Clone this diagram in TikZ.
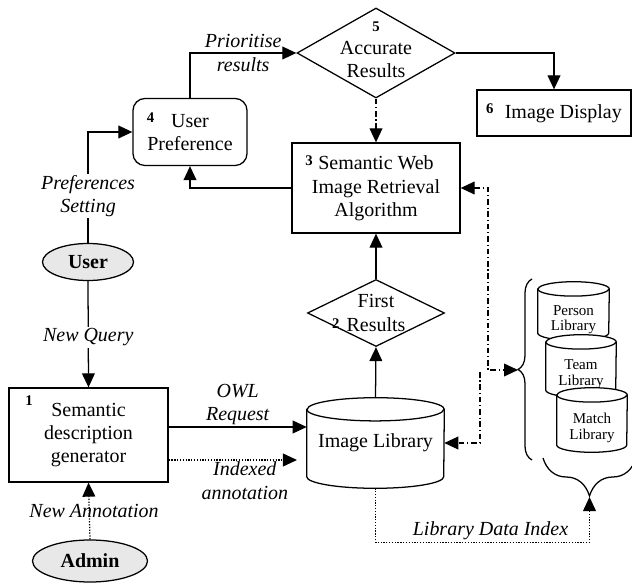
\documentclass[tikz,border=0pt]{standalone}
\usepackage{fontspec}
\setmainfont{Liberation Serif}
\usetikzlibrary{arrows.meta, shapes.geometric, decorations.pathreplacing}
\newcommand{\bigfont}{\fontsize{14.2}{16.5}\selectfont}
\newcommand{\smallfont}{\fontsize{10.7}{11.2}\selectfont}
\newcommand{\stepno}[1]{{\fontsize{10.5}{11}\selectfont\bfseries #1}}
\newcommand{\upno}[1]{\raisebox{0.5ex}{\stepno{#1}}}
% cylinder: name, position, width, height, y radius, text shift, text options, text
\newcommand{\libcyl}[8]{%
  \node[minimum width=#3, minimum height=#4, inner sep=0pt] (#1) at #2 {};
  \draw[line width=0.9pt, fill=white] ([yshift=-#5]#1.north west) -- ([yshift=#5]#1.south west)
    arc[start angle=180, end angle=360, x radius=#3/2, y radius=#5] -- ([yshift=-#5]#1.north east)
    arc[start angle=0, end angle=180, x radius=#3/2, y radius=#5] -- cycle;
  \draw[line width=0.9pt] ([yshift=-#5]#1.north west) arc[start angle=180, end angle=360, x radius=#3/2, y radius=#5];
  \node[align=center, inner sep=0pt, yshift=#6, #7] (#1-txt) at (#1.center) {#8};}
\tikzset{>={Triangle[length=3.5mm, width=3.2mm]},
  every node/.style={font=\bigfont},
  procbox/.style={draw, line width=0.9pt, align=center, inner sep=0pt},
  decision/.style={draw, diamond, line width=0.9pt, inner sep=0pt},
  actor/.style={draw, ellipse, fill=gray!18, line width=0.9pt, inner sep=0pt, font=\bigfont\bfseries},
  flow/.style={line width=0.9pt, ->},
  dashdot/.style={flow, dash pattern=on 4pt off 2pt on 0.8pt off 2pt},
  dots/.style={flow, dash pattern=on 0.9pt off 1.1pt},
  lbl/.style={font=\bigfont\itshape, align=center, inner sep=1pt},
}

\begin{document}
\begin{tikzpicture}[x=0.025cm, y=-0.025cm]
    \useasboundingbox (0,0) rectangle (632,583);
    % process boxes
    \node[decision, minimum width=3.95cm, minimum height=2.25cm,
      label={[align=center, yshift=0.8mm]center:{\stepno{5}\\Accurate\\Results}}] (acc) at (376,53) {};
    \node[procbox, minimum width=3.85cm, minimum height=1.15cm] (disp) at (554,113) {\upno{6}\hspace{8pt}Image Display};
    \node[procbox, rounded corners=3mm, minimum width=2.85cm, minimum height=1.675cm] (pref) at (190,132)
      {\llap{\upno{4}\hspace{12pt}}User\\Preference};
    \node[procbox, minimum width=4.2cm, minimum height=2.25cm] (alg) at (376,188)
      {\llap{\upno{3}\hspace{4pt}}Semantic Web\\Image Retrieval\\Algorithm};
    \node[decision, minimum width=3.425cm, minimum height=1.675cm,
      label={[align=center]center:{First\\\llap{\raisebox{0.3ex}{\stepno{2}}\hspace{5pt}}Results}}] (first) at (376,313) {};
    \node[procbox, minimum width=3.975cm, minimum height=2.35cm,
      label={[anchor=north west, xshift=4.2mm, yshift=-2mm, inner sep=0pt]north west:\stepno{1}}] (gen) at (88.5,435)
      {Semantic\\description\\generator};
    \libcyl{lib}{(375.5,443)}{3.425cm}{2.25cm}{0.29cm}{0mm}{}{Image Library}
    % actors
    \node[actor, minimum width=2.275cm, minimum height=0.925cm] (user) at (88,262) {User};
    \node[actor, minimum width=2.875cm, minimum height=1.05cm] (admin) at (90,561) {Admin};
    % libraries
    \libcyl{person}{(573.5,311)}{1.775cm}{1.45cm}{0.18cm}{-2.2mm}{font=\smallfont}{Person\\Library}
    \libcyl{team}{(581,366)}{1.75cm}{1.55cm}{0.18cm}{-2mm}{font=\smallfont}{Team\\Library}
    \libcyl{match}{(592,420)}{1.75cm}{1.6cm}{0.18cm}{-2mm}{font=\smallfont}{Match\\Library}
    \draw[line width=0.9pt, decorate, decoration={brace, amplitude=0.35cm}] (532,460) -- (532,279);
    \draw[line width=0.9pt, decorate, decoration={brace, amplitude=0.95cm}] (636,458) -- (543,458);
    \coordinate (lbt) at (518,370);
    \coordinate (bbt) at (589.5,497);
    \coordinate (owl) at (0,427);
    \coordinate (idx) at (0,460);
    \coordinate (idxend) at (297,460);
    \coordinate (j1) at (488,370);
    \coordinate (j2) at (480,372);

    % connectors
    \draw[flow] (acc.east) -| (disp.north);
    \draw[dashdot] (acc.south) -- (alg.north);
    \draw[flow] (pref.north) |- (acc.west) node[lbl, pos=0.75] {Prioritise\\results};
    \draw[flow] (alg.west) -| (pref.south);
    \draw[flow] (user.north) |- (pref.west) node[lbl, fill=white, pos=0.21] {Preferences\\Setting};
    \draw[flow] (user.south) -- (gen.north) node[lbl, fill=white, pos=0.53] {New Query};
    \draw[dots] (admin.north) -- (gen.south) node[lbl, midway, xshift=1.2mm] {New Annotation};
    \draw[flow] (gen.east |- owl) -- (lib.west |- owl) node[lbl, midway, above] {OWL\\Request};
    \draw[dots] (gen.east |- idx) -- (idxend) node[lbl, midway, below, xshift=3mm] {Indexed\\annotation};
    \draw[flow] (lib.north) -- (first.south);
    \draw[flow] (first.north) -- (alg.south);
    \draw[dashdot, <->] (alg.east) -| (j1) -- (lbt);
    \draw[dashdot] (j2) |- (lib.east);
    \draw[dots] (lib.south) -- ++(0,54) -| (bbt) node[lbl, pos=0.25, above, xshift=2mm] {Library Data Index};
\end{tikzpicture}
\end{document}
